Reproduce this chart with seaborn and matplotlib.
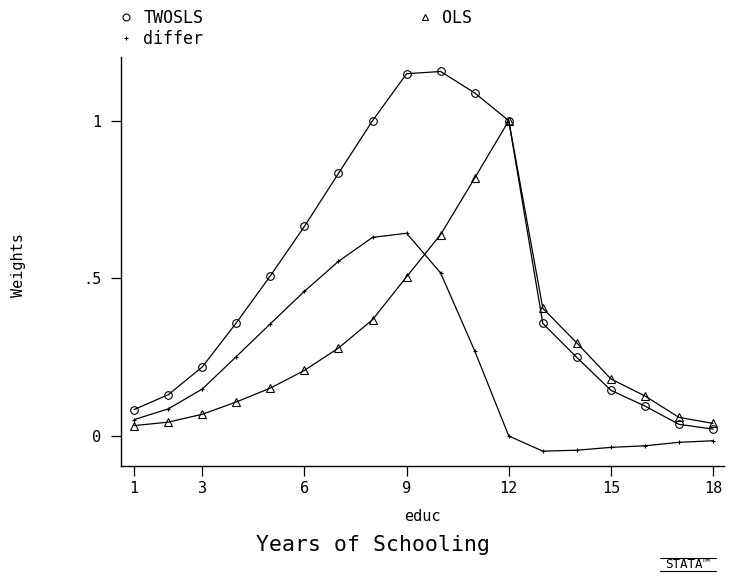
import matplotlib
matplotlib.use("Agg")
import matplotlib.pyplot as plt
from matplotlib.lines import Line2D
import seaborn as sns
import pandas as pd

educ = list(range(1, 19))
twosls = [0.084, 0.131, 0.219, 0.359, 0.508, 0.665, 0.833, 1.000, 1.149, 1.156,
          1.088, 1.000, 0.357, 0.249, 0.145, 0.095, 0.037, 0.022]
ols = [0.033, 0.044, 0.069, 0.108, 0.152, 0.208, 0.279, 0.369, 0.505, 0.639,
       0.818, 1.000, 0.405, 0.295, 0.181, 0.127, 0.059, 0.040]
differ = [0.052, 0.086, 0.149, 0.252, 0.356, 0.459, 0.554, 0.630, 0.643, 0.517,
          0.270, 0.000, -0.048, -0.045, -0.036, -0.031, -0.020, -0.015]
xticks = [1, 3, 6, 9, 12, 15, 18]
yticks = [0, 0.5, 1]
yticklabels = ["0", ".5", "1"]

df = pd.DataFrame({"educ": educ, "TWOSLS": twosls, "OLS": ols, "differ": differ})

sns.set_theme(style="white")
FONT = ["DejaVu Sans Mono", "DejaVu Sans"]
plt.rcParams["font.family"] = FONT
plt.rcParams["text.color"] = "black"
plt.rcParams["axes.labelcolor"] = "black"

fig = plt.figure(figsize=(7.31, 5.80), dpi=100)
ax = fig.add_axes([0.1651, 0.1966, 0.9904 - 0.1651, 0.9012 - 0.1966])

lw = 0.9
sns.lineplot(data=df, x="educ", y="TWOSLS", ax=ax, color="black", lw=lw,
             marker="o", markersize=5.5, markerfacecolor="none",
             markeredgecolor="black", markeredgewidth=0.8)
sns.lineplot(data=df, x="educ", y="OLS", ax=ax, color="black", lw=lw,
             marker="^", markersize=5.5, markerfacecolor="none",
             markeredgecolor="black", markeredgewidth=0.8)
sns.lineplot(data=df, x="educ", y="differ", ax=ax, color="black", lw=lw,
             marker="+", markersize=3.5, markeredgecolor="black",
             markeredgewidth=0.8)

ax.set_xlim(0.604, 18.32)
ax.set_ylim(-0.095, 1.201)
ax.set_xticks(xticks)
ax.set_xticklabels([str(v) for v in xticks])
ax.set_yticks(yticks)
ax.set_yticklabels(yticklabels)
for s in ["top", "right"]:
    ax.spines[s].set_visible(False)
for s in ["left", "bottom"]:
    ax.spines[s].set_color("black")
    ax.spines[s].set_linewidth(1.0)
ax.tick_params(axis="both", direction="out", length=7, width=0.9,
               colors="black", labelsize=11, left=True, bottom=True)
ax.tick_params(axis="y", pad=7)
ax.tick_params(axis="x", pad=4)
ax.grid(False)
ax.set_xlabel("educ", fontsize=11, labelpad=9, color="black")
ax.set_ylabel("")

fig.text(18 / 731, 1 - 265 / 580, "Weights", rotation=90, fontsize=11,
         ha="center", va="center", color="black")
fig.text(373 / 731, 1 - 545 / 580, "Years of Schooling", fontsize=15.5,
         ha="center", va="center", color="black")

handles = [
    Line2D([], [], ls="none", marker="o", markersize=5, markerfacecolor="none",
           markeredgecolor="black", markeredgewidth=0.8),
    Line2D([], [], ls="none", marker="+", markersize=3.5, markeredgecolor="black",
           markeredgewidth=0.8),
    Line2D([], [], ls="none", marker="^", markersize=5, markerfacecolor="none",
           markeredgecolor="black", markeredgewidth=0.8),
]
leg = fig.legend(handles, ["TWOSLS", "differ", "OLS"], ncol=2,
                 loc="upper left", bbox_to_anchor=(119 / 731, 1 - 9 / 580),
                 frameon=False, fontsize=12, handlelength=0.8,
                 handletextpad=0.65, columnspacing=12.9, labelspacing=0.15,
                 borderpad=0, borderaxespad=0)
for t in leg.get_texts():
    t.set_color("black")

# Stata logo
fig.text(688 / 731, 1 - 565 / 580, "STATA™", fontsize=9, ha="center",
         va="center", family=FONT, color="black")
fig.add_artist(Line2D([660 / 731, 716 / 731], [1 - 558 / 580, 1 - 558 / 580],
                      color="black", lw=0.8, transform=fig.transFigure))
fig.add_artist(Line2D([660 / 731, 716 / 731], [1 - 571 / 580, 1 - 571 / 580],
                      color="black", lw=0.8, transform=fig.transFigure))

fig.savefig("out.png", dpi=100, facecolor="white")
